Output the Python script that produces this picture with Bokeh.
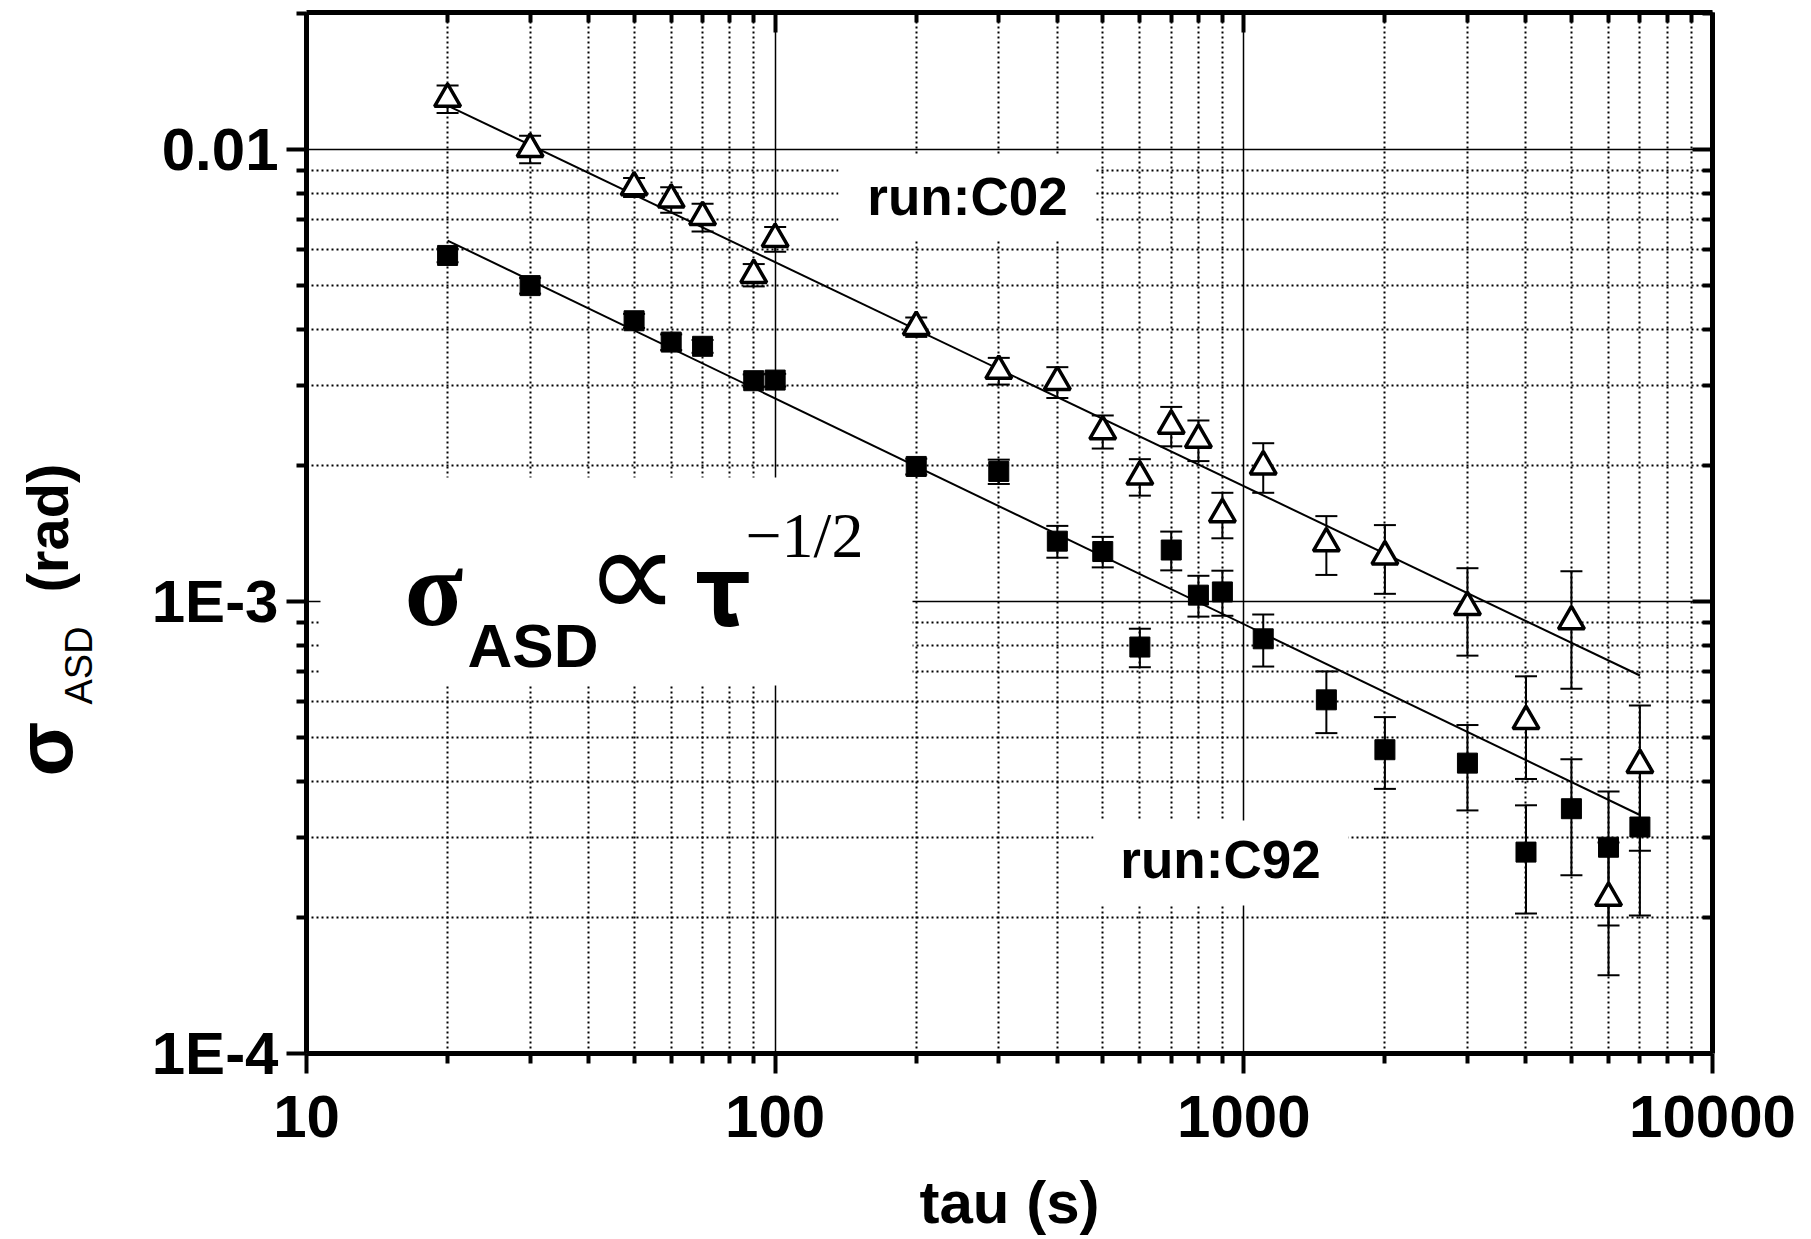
import math
from bokeh.plotting import figure
from bokeh.layouts import row
from bokeh.models import FixedTicker, LogAxis, BoxAnnotation, Range1d
from bokeh.core.properties import value
from bokeh.embed import file_html
from bokeh.resources import INLINE

# ---------------- data ----------------
tau = [20, 30, 50, 60, 70, 90, 100, 200, 300, 400, 500, 600, 700, 800, 900,
       1100, 1500, 2000, 3000, 4000, 5000, 6000, 7000]
c02 = [0.01295, 0.01003, 0.00825, 0.00775, 0.00709, 0.00528, 0.00634, 0.00405,
       0.00324, 0.00306, 0.00238, 0.00189, 0.00245, 0.00228, 0.00156, 0.00199,
       0.001345, 0.001258, 0.000972, 0.000544, 0.000904, 0.000221, 0.000435]
c02_err = [0.0009, 0.0007, 0.0004, 0.0005, 0.0005, 0.0003, 0.0004, 0.0002,
           0.00022, 0.00024, 0.0002, 0.000175, 0.000245, 0.000235, 0.00018,
           0.00025, 0.0002, 0.000218, 0.000213, 0.000139, 0.000263, 0.000072,
           0.000154]
c92 = [0.00583, 0.0050, 0.00418, 0.00375, 0.00367, 0.00308, 0.00309, 0.00199,
       0.00194, 0.00136, 0.00129, 0.000793, 0.00130, 0.001033, 0.00105,
       0.000827, 0.000606, 0.00047, 0.000439, 0.000279, 0.000348, 0.000286,
       0.000317]
c92_err = [0.0002, 0.0002, 0.00015, 0.00015, 0.00012, 0.0001, 0.0001, 0.00008,
           0.00012, 0.00011, 0.0001, 0.0000775, 0.000128, 0.000107, 0.00012,
           0.000109, 0.0000945, 0.000085, 0.000094, 0.000075, 0.0001, 0.000094,
           0.000115]
fit_x = [20, 7000]
fit_c02 = [0.01251, 0.000686]
fit_c92 = [0.00629, 0.000337]

x_major = [10, 100, 1000, 10000]
x_labels = ["10", "100", "1000", "10000"]
y_major = [1e-4, 1e-3, 1e-2]
y_labels = ["1E-4", "1E-3", "0.01"]

# ---------------- layout ----------------
W, H = 1811, 1239
LW = 130                      # width of the strip holding the y-axis title
FL, FR, FT, FB = 306, 1712, 12, 1053
X0, X1 = 10, 10000
Y0, Y1 = 1e-4, 0.0201
BL = 0.36                     # bokeh's alphabetic baseline sits this many em lower

def xd(px):
    return 10 ** (math.log10(X0) + (px - FL) / (FR - FL) * (math.log10(X1) - math.log10(X0)))

def yd(py):
    return 10 ** (math.log10(Y1) - (py - FT) / (FB - FT) * (math.log10(Y1) - math.log10(Y0)))

p = figure(width=W - LW, height=H, x_axis_type="log", y_axis_type="log",
           x_range=Range1d(X0, X1), y_range=Range1d(Y0, Y1),
           output_backend="svg", toolbar_location=None,
           min_border_left=FL - LW, min_border_right=W - FR,
           min_border_top=FT, min_border_bottom=H - FB)
p.outline_line_color = None
p.background_fill_color = "white"
p.border_fill_color = "white"

x_minor = [m * 10 ** e for e in range(1, 4) for m in range(2, 10)]
y_minor = [m * 10 ** e for e in range(-4, -1) for m in range(2, 10) if m * 10 ** e <= Y1 * 1.0001]
xt = FixedTicker(ticks=x_major, minor_ticks=x_minor)
yt = FixedTicker(ticks=y_major, minor_ticks=y_minor)

FONT = "Liberation Sans"
SERIF = "Liberation Serif"

def style_axis(ax, show_labels, inward):
    ax.axis_line_width = 5
    ax.major_tick_line_width = 4
    ax.minor_tick_line_width = 4
    if inward:
        ax.major_tick_in, ax.major_tick_out = 20, 0
        ax.minor_tick_in, ax.minor_tick_out = 10, 0
    else:
        ax.major_tick_in, ax.major_tick_out = 0, 20
        ax.minor_tick_in, ax.minor_tick_out = 0, 10
    if show_labels:
        ax.major_label_text_font = FONT
        ax.major_label_text_font_style = "bold"
        ax.major_label_text_font_size = "60px"
        ax.major_label_text_color = "black"
    else:
        ax.major_label_text_font_size = "1px"
        ax.major_label_text_alpha = 0
        ax.major_label_standoff = 0

xa = p.xaxis[0]
ya = p.yaxis[0]
xa.ticker = xt
ya.ticker = yt
xa.major_label_overrides = {v: s for v, s in zip(x_major, x_labels)}
ya.major_label_overrides = {v: s for v, s in zip(y_major, y_labels)}
style_axis(xa, True, False)
style_axis(ya, True, False)
xa.major_label_standoff = 22
ya.major_label_standoff = 8
xa.axis_label = "tau (s)"
xa.axis_label_text_font = FONT
xa.axis_label_text_font_style = "bold"
xa.axis_label_text_font_size = "60px"
xa.axis_label_text_color = "black"
xa.axis_label_standoff = 29

top = LogAxis(ticker=xt)
right = LogAxis(ticker=yt)
style_axis(top, False, True)
style_axis(right, False, True)
p.add_layout(top, "above")
p.add_layout(right, "right")

for g, t in ((p.xgrid[0], xt), (p.ygrid[0], yt)):
    g.ticker = t
    g.grid_line_color = "black"
    g.grid_line_width = 1.5
    g.minor_grid_line_color = "black"
    g.minor_grid_line_width = 2
    g.minor_grid_line_dash = "2 3"

# ---------------- glyphs ----------------
p.line(fit_x, fit_c02, line_color="black", line_width=2)
p.line(fit_x, fit_c92, line_color="black", line_width=2)

for ys, es in ((c02, c02_err), (c92, c92_err)):
    lo = [y - e for y, e in zip(ys, es)]
    hi = [y + e for y, e in zip(ys, es)]
    p.segment(x0=tau, y0=lo, x1=tau, y1=hi, line_color="black", line_width=2)
    p.scatter(x=tau, y=lo, marker="dash", size=22, line_color="black", line_width=2)
    p.scatter(x=tau, y=hi, marker="dash", size=22, line_color="black", line_width=2)

p.scatter(tau, c92, marker="square", size=20, fill_color="black", line_color="black", line_width=1)
p.scatter(tau, c02, marker="triangle", size=26, fill_color="white", line_color="black", line_width=3.5)

# ---------------- white boxes behind annotations ----------------
def wbox(l, r, t, b):
    p.add_layout(BoxAnnotation(left=xd(l), right=xd(r), top=yd(t), bottom=yd(b),
                               fill_color="white", fill_alpha=1.0,
                               line_color=None))

wbox(320, 912, 477, 685)
wbox(838, 1095, 155, 240)
wbox(1093, 1348, 820, 905)

# ---------------- texts inside the plot (drawn last) ----------------
def txt(fig, x, y, s, size, font=FONT, style="bold", angle=0.0, align="left"):
    fig.text(x=[x], y=[y], text=[s], text_font=value(font),
             text_font_style=style, text_font_size=value(f"{size}px"),
             text_color="black", text_align=align,
             text_baseline="alphabetic", angle=angle, level="overlay")

def ptxt(px, py, s, size, **kw):
    txt(p, xd(px), yd(py - BL * size), s, size, **kw)

ptxt(967, 215, "run:C02", 53, align="center")
ptxt(1220, 878, "run:C92", 53, align="center")
ptxt(404, 627, "σ", 108, font=SERIF)
ptxt(467, 667, "ASD", 62)
ptxt(584, 622, "∝", 132, font=SERIF, style="normal")
ptxt(745, 558, "−1/2", 64, font=SERIF, style="normal")
ptxt(694, 627, "𝛕", 100, font="DejaVu Serif", style="normal")

# ---------------- strip with the rotated y-axis title ----------------
# its frame is aligned with the main frame (canvas rows FT..FB)
q = figure(width=LW, height=H, x_range=Range1d(0, LW), y_range=Range1d(FB, FT),
           output_backend="svg", toolbar_location=None,
           min_border=0, x_axis_location=None, y_axis_location=None)
q.outline_line_color = None
q.grid.visible = False
q.background_fill_color = "white"
q.border_fill_color = "white"

def qtxt(bx, sy, s, size, **kw):
    txt(q, bx - BL * size, sy, s, size, angle=math.pi / 2, **kw)

qtxt(73, 776, "σ", 80)
qtxt(92, 704, "ASD", 38, style="normal")
qtxt(68, 592, "(rad)", 58)

layout = row(q, p, spacing=0)
open("out.html", "w").write(file_html(layout, INLINE))
